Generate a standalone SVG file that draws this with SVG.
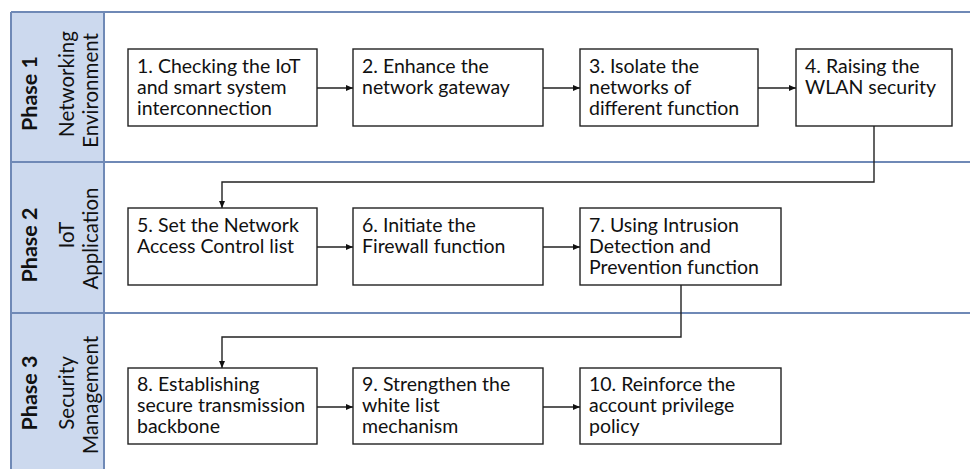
<svg xmlns="http://www.w3.org/2000/svg" width="970" height="469" viewBox="0 0 970 469">
<style>
.lane{fill:none;stroke:#6f89b6;stroke-width:2}
.col{fill:#ccd9ee;stroke:none}
.box{fill:#fff;stroke:#222;stroke-width:1.4}
.t{font-family:Lato,"Liberation Sans",sans-serif;font-size:19.5px;fill:#111}
.ph{font-family:Lato,"Liberation Sans",sans-serif;font-size:21.5px;font-weight:bold;fill:#111;text-anchor:middle}
.sub{font-family:Lato,"Liberation Sans",sans-serif;font-size:20.5px;fill:#111;text-anchor:middle}
.c{fill:none;stroke:#222;stroke-width:1.4}
</style>
<defs>
<marker id="ah" markerWidth="8" markerHeight="8" refX="7" refY="4" orient="auto" markerUnits="userSpaceOnUse">
<path d="M0,1 L7,4 L0,7 Z" fill="#111"/>
</marker>
</defs>
<g id="lanes">
<rect class="col" x="11" y="12" width="93" height="457"/>
<line class="lane" x1="11" y1="12" x2="970" y2="12"/>
<line class="lane" x1="11" y1="162" x2="970" y2="162"/>
<line class="lane" x1="11" y1="313" x2="970" y2="313"/>
<line class="lane" x1="11" y1="12" x2="11" y2="469"/>
<line class="lane" x1="104" y1="12" x2="104" y2="469"/>
</g>
<g id="phase1">
<text class="ph" transform="translate(37,93.5) rotate(-90)">Phase 1</text>
<text class="sub" transform="translate(74,84) rotate(-90)">Networking</text>
<text class="sub" transform="translate(98,90.5) rotate(-90)">Environment</text>
</g>
<g id="phase2">
<text class="ph" transform="translate(37,245) rotate(-90)">Phase 2</text>
<text class="sub" transform="translate(74,235) rotate(-90)">IoT</text>
<text class="sub" transform="translate(98,238.5) rotate(-90)">Application</text>
</g>
<g id="phase3">
<text class="ph" transform="translate(37,393) rotate(-90)">Phase 3</text>
<text class="sub" transform="translate(74,393) rotate(-90)">Security</text>
<text class="sub" transform="translate(98,395) rotate(-90)">Management</text>
</g>
<g id="connectors">
<line class="c" x1="317" y1="88" x2="353" y2="88" marker-end="url(#ah)"/>
<line class="c" x1="543" y1="88" x2="580" y2="88" marker-end="url(#ah)"/>
<line class="c" x1="758" y1="88" x2="796" y2="88" marker-end="url(#ah)"/>
<polyline class="c" points="874,126 874,182 222,182 222,208" marker-end="url(#ah)"/>
<line class="c" x1="317" y1="247" x2="353" y2="247" marker-end="url(#ah)"/>
<line class="c" x1="543" y1="247" x2="580" y2="247" marker-end="url(#ah)"/>
<polyline class="c" points="681,285 681,337 222,337 222,368" marker-end="url(#ah)"/>
<line class="c" x1="317" y1="407" x2="353" y2="407" marker-end="url(#ah)"/>
<line class="c" x1="543" y1="407" x2="580" y2="407" marker-end="url(#ah)"/>
</g>
<g id="n1"><rect class="box" x="128" y="49" width="189" height="77"/>
<text class="t" x="137" y="73">1. Checking the IoT</text><text class="t" x="137" y="94">and smart system</text><text class="t" x="137" y="115">interconnection</text></g>
<g id="n2"><rect class="box" x="353" y="49" width="190" height="77"/>
<text class="t" x="362" y="73">2. Enhance the</text><text class="t" x="362" y="94">network gateway</text></g>
<g id="n3"><rect class="box" x="580" y="49" width="178" height="77"/>
<text class="t" x="589" y="73">3. Isolate the</text><text class="t" x="589" y="94">networks of</text><text class="t" x="589" y="115">different function</text></g>
<g id="n4"><rect class="box" x="796" y="49" width="156" height="77"/>
<text class="t" x="805" y="73">4. Raising the</text><text class="t" x="805" y="94">WLAN security</text></g>
<g id="n5"><rect class="box" x="128" y="208" width="189" height="77"/>
<text class="t" x="137" y="232">5. Set the Network</text><text class="t" x="137" y="253">Access Control list</text></g>
<g id="n6"><rect class="box" x="353" y="208" width="190" height="77"/>
<text class="t" x="362" y="232">6. Initiate the</text><text class="t" x="362" y="253">Firewall function</text></g>
<g id="n7"><rect class="box" x="580" y="208" width="201" height="77"/>
<text class="t" x="589" y="232">7. Using Intrusion</text><text class="t" x="589" y="253">Detection and</text><text class="t" x="589" y="274">Prevention function</text></g>
<g id="n8"><rect class="box" x="128" y="368" width="189" height="76"/>
<text class="t" x="137" y="391">8. Establishing</text><text class="t" x="137" y="412">secure transmission</text><text class="t" x="137" y="433">backbone</text></g>
<g id="n9"><rect class="box" x="353" y="368" width="190" height="76"/>
<text class="t" x="362" y="391">9. Strengthen the</text><text class="t" x="362" y="412">white list</text><text class="t" x="362" y="433">mechanism</text></g>
<g id="n10"><rect class="box" x="580" y="368" width="201" height="76"/>
<text class="t" x="589" y="391">10. Reinforce the</text><text class="t" x="589" y="412">account privilege</text><text class="t" x="589" y="433">policy</text></g>
</svg>
